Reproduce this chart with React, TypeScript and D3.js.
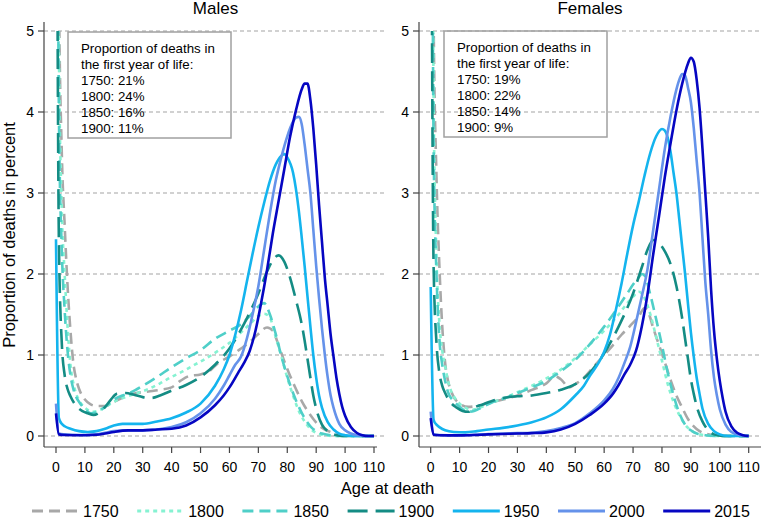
import React from "react";
import * as d3 from "d3";

type Pt = [number, number];

// ---- Data (age at death, proportion of deaths in percent) ----
const years = ["1750", "1800", "1850", "1900", "1950", "2000", "2015"];
const colors = ["#A8A8A8", "#86F2D2", "#4FCFC8", "#148C84", "#14B4EE", "#6592EA", "#0606C2"];
const dashes = ["11,6", "4,4", "11,6", "20,8", null, null, null];

const firstYearMales = ["1750: 21%", "1800: 24%", "1850: 16%", "1900: 11%"];
const firstYearFemales = ["1750: 19%", "1800: 22%", "1850: 14%", "1900: 9%"];

const xTicks = [0, 10, 20, 30, 40, 50, 60, 70, 80, 90, 100, 110];
const yTicks = [0, 1, 2, 3, 4, 5];

const m1750: Pt[] = [[0,21],[1,5.6],[2,3.5],[3,2.6],[4,1.85],[5,1.3],[6,0.9],[7,0.7],[8,0.58],[10,0.45],[12,0.39],[14,0.37],[17,0.37],[20,0.42],[24,0.49],[28,0.53],[32,0.55],[36,0.57],[40,0.6],[43,0.68],[46,0.74],[50,0.76],[53,0.8],[56,0.9],[60,0.98],[64,1.08],[67,1.16],[70,1.26],[73,1.34],[75,1.3],[77,1.12],[79,0.92],[81,0.74],[83,0.58],[85,0.43],[87,0.31],[89,0.21],[91,0.13],[93,0.08],[95,0.05],[97,0.02],[100,0.005],[110,0]];
const m1800: Pt[] = [[0,24],[1,4.8],[2,2.8],[3,2.0],[4,1.35],[5,0.88],[6,0.65],[7,0.52],[8,0.44],[10,0.35],[13,0.3],[15,0.32],[18,0.38],[21,0.44],[24,0.48],[28,0.53],[32,0.58],[36,0.65],[40,0.73],[44,0.8],[48,0.88],[52,0.96],[56,1.05],[60,1.15],[64,1.28],[67,1.38],[70,1.48],[72,1.51],[74,1.46],[76,1.22],[78,0.98],[80,0.72],[82,0.5],[84,0.31],[86,0.18],[88,0.09],[90,0.04],[93,0.01],[96,0],[110,0]];
const m1850: Pt[] = [[0,16],[1,4.0],[2,2.3],[3,1.55],[4,1.05],[5,0.75],[6,0.58],[7,0.48],[8,0.42],[10,0.33],[12,0.28],[14,0.29],[17,0.36],[20,0.45],[23,0.5],[26,0.54],[30,0.62],[35,0.73],[40,0.85],[45,0.96],[50,1.06],[55,1.2],[60,1.3],[64,1.38],[67,1.48],[70,1.6],[72,1.64],[74,1.5],[76,1.26],[78,0.98],[80,0.74],[82,0.53],[84,0.36],[86,0.22],[88,0.12],[90,0.06],[92,0.03],[95,0.01],[98,0],[110,0]];
const m1900: Pt[] = [[0,11],[1,2.4],[2,1.15],[3,0.75],[4,0.58],[5,0.49],[7,0.37],[9,0.31],[11,0.28],[13,0.26],[15,0.29],[17,0.36],[19,0.45],[21,0.52],[24,0.53],[27,0.51],[30,0.48],[33,0.47],[36,0.5],[40,0.56],[45,0.63],[50,0.73],[55,0.88],[60,1.08],[65,1.38],[70,1.76],[73,2.03],[75,2.17],[77,2.23],[79,2.15],[81,1.95],[83,1.68],[85,1.38],[86,1.18],[87,0.95],[88,0.72],[89,0.5],[90,0.34],[92,0.14],[94,0.06],[96,0.02],[99,0],[110,0]];
const m1950: Pt[] = [[0,2.43],[1,0.22],[2,0.15],[3,0.12],[5,0.09],[8,0.06],[11,0.05],[14,0.06],[17,0.09],[20,0.13],[23,0.15],[27,0.15],[30,0.15],[35,0.18],[40,0.22],[45,0.29],[50,0.4],[55,0.62],[58,0.82],[60,1.0],[62,1.25],[64,1.55],[66,1.9],[68,2.25],[70,2.58],[72,2.88],[74,3.15],[76,3.35],[78,3.46],[79,3.48],[80,3.44],[82,3.25],[84,2.78],[85,2.45],[86,2.1],[87,1.72],[88,1.35],[89,1.0],[90,0.72],[91,0.5],[92,0.35],[94,0.17],[96,0.08],[98,0.03],[100,0.01],[103,0],[110,0]];
const m2000: Pt[] = [[0,0.4],[1,0.03],[3,0.02],[6,0.015],[10,0.012],[14,0.02],[17,0.04],[20,0.06],[25,0.07],[30,0.07],[35,0.08],[40,0.11],[45,0.17],[50,0.28],[55,0.46],[58,0.62],[60,0.75],[62,0.88],[64,0.98],[66,1.2],[68,1.5],[70,1.85],[72,2.3],[74,2.75],[76,3.15],[78,3.45],[80,3.7],[82,3.88],[83,3.93],[84,3.94],[85,3.85],[86,3.6],[87,3.3],[88,3.0],[89,2.55],[90,2.1],[91,1.7],[92,1.33],[93,1.0],[94,0.72],[95,0.5],[96,0.35],[98,0.15],[100,0.07],[102,0.03],[104,0.01],[107,0],[110,0]];
const m2015: Pt[] = [[0,0.28],[1,0.02],[3,0.012],[6,0.01],[10,0.01],[14,0.015],[17,0.03],[20,0.05],[25,0.07],[30,0.07],[35,0.08],[40,0.09],[45,0.13],[50,0.23],[55,0.38],[58,0.5],[60,0.6],[63,0.78],[65,0.9],[67,1.05],[69,1.3],[71,1.65],[73,2.05],[75,2.5],[77,2.9],[79,3.3],[81,3.7],[83,4.02],[85,4.28],[86,4.35],[87,4.35],[88,4.15],[89,3.8],[90,3.35],[91,2.85],[92,2.4],[93,1.95],[94,1.6],[95,1.25],[96,0.98],[97,0.72],[98,0.52],[99,0.36],[100,0.25],[102,0.11],[104,0.04],[106,0.01],[108,0],[110,0]];

const f1750: Pt[] = [[0,19],[1,5.2],[2,3.2],[3,2.1],[4,1.35],[5,0.9],[6,0.68],[7,0.56],[8,0.48],[10,0.4],[13,0.36],[16,0.37],[20,0.41],[25,0.45],[30,0.5],[35,0.57],[40,0.65],[43,0.74],[45,0.7],[48,0.6],[50,0.64],[53,0.72],[56,0.84],[60,1.0],[63,1.12],[66,1.25],[69,1.36],[72,1.48],[74,1.58],[75,1.55],[77,1.33],[79,1.12],[81,0.91],[83,0.69],[85,0.5],[87,0.35],[89,0.21],[91,0.12],[93,0.06],[95,0.03],[98,0.01],[101,0],[110,0]];
const f1800: Pt[] = [[0,22],[1,4.2],[2,2.2],[3,1.4],[4,1.05],[5,0.86],[6,0.68],[7,0.56],[8,0.49],[10,0.4],[12,0.35],[14,0.32],[17,0.35],[20,0.4],[25,0.46],[30,0.54],[35,0.62],[40,0.71],[45,0.82],[50,0.96],[55,1.13],[60,1.3],[65,1.5],[68,1.64],[70,1.72],[72,1.78],[74,1.7],[76,1.5],[78,1.22],[80,0.93],[82,0.64],[84,0.42],[86,0.26],[88,0.14],[90,0.07],[92,0.03],[95,0.01],[98,0],[110,0]];
const f1850: Pt[] = [[0,14],[1,3.6],[2,2.0],[3,1.2],[4,0.88],[5,0.68],[6,0.54],[8,0.43],[10,0.36],[13,0.3],[15,0.31],[18,0.36],[21,0.41],[25,0.46],[30,0.53],[35,0.6],[40,0.68],[45,0.8],[50,0.94],[55,1.13],[60,1.35],[65,1.6],[68,1.76],[70,1.87],[72,1.96],[73,2.0],[74,1.98],[76,1.74],[78,1.44],[80,1.12],[82,0.78],[84,0.5],[86,0.28],[88,0.14],[90,0.07],[92,0.03],[95,0.01],[98,0],[110,0]];
const f1900: Pt[] = [[0,9],[1,2.1],[2,1.15],[3,0.78],[4,0.62],[5,0.53],[7,0.41],[9,0.35],[11,0.31],[13,0.3],[15,0.35],[18,0.39],[21,0.43],[25,0.47],[30,0.49],[35,0.5],[40,0.53],[45,0.57],[50,0.64],[55,0.78],[60,1.02],[65,1.35],[70,1.76],[73,2.08],[75,2.3],[77,2.42],[79,2.38],[81,2.28],[83,2.12],[85,1.85],[87,1.45],[88,1.2],[89,0.95],[90,0.7],[91,0.52],[92,0.37],[94,0.18],[96,0.07],[98,0.02],[101,0],[110,0]];
const f1950: Pt[] = [[0,1.84],[1,0.2],[2,0.14],[3,0.11],[5,0.07],[8,0.05],[12,0.045],[16,0.06],[20,0.08],[25,0.1],[30,0.13],[35,0.17],[40,0.23],[45,0.33],[50,0.5],[53,0.62],[55,0.74],[58,0.9],[60,1.04],[62,1.25],[64,1.55],[66,1.88],[68,2.25],[70,2.6],[72,2.9],[74,3.22],[76,3.5],[78,3.7],[80,3.79],[81,3.77],[82,3.68],[83,3.5],[84,3.25],[85,3.0],[86,2.67],[87,2.33],[88,2.0],[89,1.63],[90,1.28],[91,0.98],[92,0.72],[93,0.52],[94,0.34],[96,0.15],[98,0.06],[100,0.02],[103,0],[110,0]];
const f2000: Pt[] = [[0,0.3],[1,0.02],[3,0.012],[6,0.01],[10,0.01],[15,0.015],[20,0.025],[25,0.03],[30,0.035],[35,0.04],[40,0.06],[45,0.1],[50,0.16],[55,0.28],[60,0.44],[63,0.58],[65,0.72],[67,0.9],[69,1.1],[71,1.4],[73,1.72],[75,2.06],[77,2.55],[79,3.05],[81,3.55],[83,3.95],[85,4.28],[86,4.4],[87,4.47],[88,4.45],[89,4.3],[90,4.12],[91,3.8],[92,3.4],[93,3.0],[94,2.45],[95,1.9],[96,1.5],[97,1.05],[98,0.72],[99,0.5],[100,0.33],[102,0.14],[104,0.05],[107,0.01],[110,0]];
const f2015: Pt[] = [[0,0.22],[1,0.015],[3,0.01],[6,0.008],[10,0.008],[15,0.012],[20,0.02],[25,0.025],[30,0.03],[35,0.035],[40,0.045],[45,0.08],[50,0.15],[55,0.26],[60,0.4],[63,0.52],[65,0.63],[67,0.76],[69,0.88],[71,1.05],[73,1.35],[75,1.75],[77,2.25],[79,2.72],[81,3.2],[83,3.62],[85,4.02],[87,4.35],[89,4.6],[90,4.67],[91,4.62],[92,4.4],[93,4.05],[94,3.55],[95,3.0],[96,2.45],[97,1.8],[98,1.3],[99,0.95],[100,0.68],[101,0.47],[102,0.3],[104,0.12],[106,0.04],[108,0.01],[110,0]];

const maleSeries = [m1750, m1800, m1850, m1900, m1950, m2000, m2015];
const femaleSeries = [f1750, f1800, f1850, f1900, f1950, f2000, f2015];

const FONT = "'Liberation Sans', Arial, Helvetica, sans-serif";
const W = 761;
const H = 519;

const y = d3.scaleLinear().domain([0, 5]).range([436, 31]);

interface PanelProps {
  id: string;
  title: string;
  series: Pt[][];
  notes: string[];
  axisX: number;
  x0: number;
  gridRight: number;
  axisRight: number;
  boxX: number;
  boxY: number;
}

function Panel(p: PanelProps) {
  const x = d3.scaleLinear().domain([0, 110]).range([p.x0, p.x0 + 318]);
  const line = d3
    .line<Pt>()
    .x((d) => x(d[0]))
    .y((d) => y(d[1]))
    .curve(d3.curveMonotoneX);
  const titleX = (p.axisX + p.gridRight) / 2;
  const axisColor = "#444";
  const yTop = y(5.11);
  const yBottom = 447;
  const notes = ["Proportion of deaths in", "the first year of life:", ...p.notes];
  return (
    <g>
      <defs>
        <clipPath id={`clip-${p.id}`}>
          <rect x={p.axisX + 1} y={y(5)} width={p.gridRight - p.axisX} height={yBottom - y(5)} />
        </clipPath>
      </defs>
      <text x={titleX} y={14} textAnchor="middle" fontSize={17} fontFamily={FONT} fill="#000">
        {p.title}
      </text>
      {yTicks.map((t) => (
        <line
          key={`g${t}`}
          x1={p.axisX}
          x2={p.gridRight}
          y1={y(t)}
          y2={y(t)}
          stroke="#a3a3a3"
          strokeWidth={1}
          strokeDasharray="4,3"
        />
      ))}
      <rect x={p.boxX} y={p.boxY} width={163} height={106} fill="none" stroke="#a0a0a0" strokeWidth={1.5} />
      {notes.map((n, i) => (
        <text key={n} x={p.boxX + 13} y={p.boxY + 21 + i * 15.9} fontSize={13.3} fontFamily={FONT} fill="#000">
          {n}
        </text>
      ))}
      <g clipPath={`url(#clip-${p.id})`}>
        {p.series.map((s, i) => (
          <path
            key={years[i]}
            d={line(s) || ""}
            fill="none"
            stroke={colors[i]}
            strokeWidth={2.6}
            strokeDasharray={dashes[i] || undefined}
            strokeLinejoin="round"
          />
        ))}
      </g>
      <line x1={p.axisX} x2={p.axisX} y1={yTop} y2={yBottom} stroke={axisColor} strokeWidth={1.2} />
      <line x1={p.axisX} x2={p.axisRight} y1={yBottom} y2={yBottom} stroke={axisColor} strokeWidth={1.2} />
      {yTicks.map((t) => (
        <g key={`yt${t}`}>
          <line x1={p.axisX - 6} x2={p.axisX} y1={y(t)} y2={y(t)} stroke={axisColor} strokeWidth={1.2} />
          <text
            x={p.axisX - 10}
            y={y(t) + 5}
            textAnchor="end"
            fontSize={14}
            fontFamily={FONT}
            fill="#000"
          >
            {t}
          </text>
        </g>
      ))}
      {xTicks.map((t) => (
        <g key={`xt${t}`}>
          <line x1={x(t)} x2={x(t)} y1={yBottom} y2={yBottom + 6} stroke={axisColor} strokeWidth={1.2} />
          <text x={x(t)} y={471.5} textAnchor="middle" fontSize={14} fontFamily={FONT} fill="#000">
            {t}
          </text>
        </g>
      ))}
    </g>
  );
}

export default function App() {
  return (
    <svg
      width={W}
      height={H}
      viewBox={`0 0 ${W} ${H}`}
      style={{ position: "absolute", left: 0, top: 0, background: "#fff" }}
    >
      <rect x={0} y={0} width={W} height={H} fill="#fff" />
      <Panel
        id="m"
        title="Males"
        series={maleSeries}
        notes={firstYearMales}
        axisX={44}
        x0={56}
        gridRight={387}
        axisRight={377}
        boxX={68}
        boxY={32}
      />
      <Panel
        id="f"
        title="Females"
        series={femaleSeries}
        notes={firstYearFemales}
        axisX={419}
        x0={430.7}
        gridRight={761}
        axisRight={761}
        boxX={444}
        boxY={31}
      />
      <text
        transform="translate(15,235) rotate(-90)"
        textAnchor="middle"
        fontSize={16.5}
        fontFamily={FONT}
        fill="#000"
      >
        Proportion of deaths in percent
      </text>
      <text x={387.5} y={494} textAnchor="middle" fontSize={16.5} fontFamily={FONT} fill="#000">
        Age at death
      </text>
      {years.map((yr, i) => {
        const lx = 32 + 105.2 * i;
        return (
          <g key={yr}>
            <line
              x1={lx}
              x2={lx + 47}
              y1={511}
              y2={511}
              stroke={colors[i]}
              strokeWidth={3}
              strokeDasharray={dashes[i] || undefined}
            />
            <text x={lx + 51} y={517} fontSize={16} fontFamily={FONT} fill="#000">
              {yr}
            </text>
          </g>
        );
      })}
    </svg>
  );
}
